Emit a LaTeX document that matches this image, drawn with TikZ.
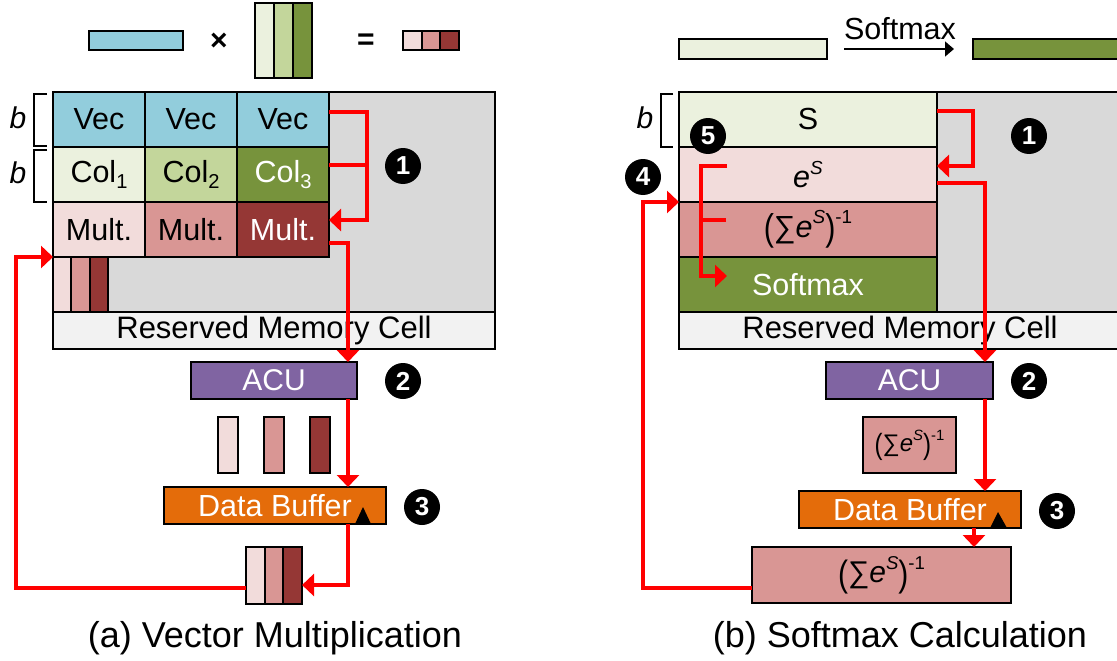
\documentclass[tikz,border=0pt]{standalone}
\usepackage{fontspec}
\usepackage{graphicx}
\setmainfont{Liberation Sans}
\usetikzlibrary{arrows.meta,calc}

\definecolor{vecblue}{HTML}{92CDDC}
\definecolor{colA}{HTML}{EBF1DE}
\definecolor{colB}{HTML}{C3D69B}
\definecolor{colC}{HTML}{77933C}
\definecolor{multA}{HTML}{F2DCDB}
\definecolor{multB}{HTML}{D99694}
\definecolor{multC}{HTML}{953735}
\definecolor{acupurple}{HTML}{8064A2}
\definecolor{bufferorange}{HTML}{E46C0A}
\definecolor{memgray}{HTML}{D9D9D9}
\definecolor{resgray}{HTML}{F2F2F2}

\newcommand{\sizeto}[1]{\fontsize{#1}{#1}\selectfont}
\newcommand{\subidx}[1]{\raisebox{-0.2em}{\scalebox{0.66}{#1}}}
\newcommand{\supidx}[1]{\raisebox{0.45em}{\scalebox{0.62}{#1}}}
\newcommand{\tallparen}[1]{\raisebox{-0.12em}{\scalebox{1}[1.22]{#1}}}
\newcommand{\invsum}{\tallparen{(}∑\textit{e}\supidx{\textit{S}}\tallparen{)}\supidx{-1}}

\begin{document}
\begin{tikzpicture}[x=1pt, y=-1pt,
  cellbox/.style={draw=black, line width=1.9pt, rectangle, inner sep=0pt, outer sep=0pt},
  celltext/.style={font=\sizeto{30.5}},
  redline/.style={draw=red, line width=3.4pt},
  redflow/.style={draw=red, line width=3.4pt, -{Triangle[width=22pt,length=12pt]}},
  marker/.style={circle, fill=black, text=white, minimum size=36pt, inner sep=0pt, font=\sizeto{26}\bfseries},
  bracketline/.style={draw=black, line width=1.5pt},
  caption/.style={font=\sizeto{36}}
]
\useasboundingbox (0,0) rectangle (1117,661);
\clip (0,0) rectangle (1117,661);

% ---------------- (a) Vector Multiplication ----------------
% equation above the array
\node[cellbox, fill=vecblue, minimum width=94pt, minimum height=19pt] (avec) at (136,40.5) {};
\node[font=\sizeto{30}\bfseries] (atimes) at (219,42) {×};
\node[cellbox, fill=colA, minimum width=19pt, minimum height=75pt] (amat1) at (264.5,40.5) {};
\node[cellbox, fill=colB, minimum width=19pt, minimum height=75pt] (amat2) at (283.5,40.5) {};
\node[cellbox, fill=colC, minimum width=19pt, minimum height=75pt] (amat3) at (302.5,40.5) {};
\node[font=\sizeto{30}\bfseries] (aeq) at (366,42) {=};
\node[cellbox, fill=multA, minimum width=18.7pt, minimum height=19pt] (ares1) at (412.3,40.5) {};
\node[cellbox, fill=multB, minimum width=18.7pt, minimum height=19pt] (ares2) at (431,40.5) {};
\node[cellbox, fill=multC, minimum width=18.7pt, minimum height=19pt] (ares3) at (449.7,40.5) {};

% memory array
\node[cellbox, fill=memgray, minimum width=442pt, minimum height=220pt] (amem) at (274,202) {};
\node[cellbox, celltext, fill=vecblue, minimum width=92pt, minimum height=55pt] (av1) at (99,119.5) {Vec};
\node[cellbox, celltext, fill=vecblue, minimum width=92pt, minimum height=55pt] (av2) at (191,119.5) {Vec};
\node[cellbox, celltext, fill=vecblue, minimum width=92pt, minimum height=55pt] (av3) at (283,119.5) {Vec};
\node[cellbox, celltext, fill=colA, minimum width=92pt, minimum height=55pt] (ac1) at (99,174.5) {Col\subidx{1}};
\node[cellbox, celltext, fill=colB, minimum width=92pt, minimum height=55pt] (ac2) at (191,174.5) {Col\subidx{2}};
\node[cellbox, celltext, fill=colC, text=white, minimum width=92pt, minimum height=55pt] (ac3) at (283,174.5) {Col\subidx{3}};
\node[cellbox, celltext, fill=multA, minimum width=92pt, minimum height=55pt] (am1) at (99,229.5) {Mult.};
\node[cellbox, celltext, fill=multB, minimum width=92pt, minimum height=55pt] (am2) at (191,229.5) {Mult.};
\node[cellbox, celltext, fill=multC, text=white, minimum width=92pt, minimum height=55pt] (am3) at (283,229.5) {Mult.};
\node[cellbox, fill=multA, minimum width=18.3pt, minimum height=55pt] (ak1) at (62.2,284.5) {};
\node[cellbox, fill=multB, minimum width=18.3pt, minimum height=55pt] (ak2) at (80.5,284.5) {};
\node[cellbox, fill=multC, minimum width=18.3pt, minimum height=55pt] (ak3) at (98.8,284.5) {};
\node[cellbox, fill=resgray, font=\sizeto{31}, minimum width=442pt, minimum height=37pt] (ares) at (274,330.5) {Reserved Memory Cell};

% row-height brackets
\draw[bracketline] (47,94) -- (34,94) -- (34,146) -- (47,146);
\draw[bracketline] (47,150) -- (34,150) -- (34,202) -- (47,202);
\node[font=\sizeto{30}\itshape] (ab1) at (18,118) {b};
\node[font=\sizeto{30}\itshape] (ab2) at (18,173) {b};

% processing units
\node[cellbox, fill=acupurple, text=white, font=\sizeto{30}, minimum width=166pt, minimum height=37pt] (aacu) at (274,380.5) {ACU};
\node[cellbox, fill=multA, minimum width=20pt, minimum height=56pt] (ap1) at (228,445) {};
\node[cellbox, fill=multB, minimum width=20pt, minimum height=56pt] (ap2) at (274,445) {};
\node[cellbox, fill=multC, minimum width=20pt, minimum height=56pt] (ap3) at (320,445) {};
\node[cellbox, fill=bufferorange, text=white, font=\sizeto{30.5}, minimum width=222pt, minimum height=37pt] (adb) at (275,505.5) {Data Buffer};
\fill[black] (355,524) -- (363,507) -- (371,524) -- cycle;
\node[cellbox, fill=multA, minimum width=18.7pt, minimum height=57pt] (ast1) at (255.3,575.5) {};
\node[cellbox, fill=multB, minimum width=18.7pt, minimum height=57pt] (ast2) at (274,575.5) {};
\node[cellbox, fill=multC, minimum width=18.7pt, minimum height=57pt] (ast3) at (292.7,575.5) {};

% data flow
\draw[redflow] ([yshift=7.5pt]av3.east) -- ++(38,0) |- ([yshift=9.5pt]am3.east);
\draw[redline] ([yshift=9.5pt]ac3.east) -- ++(38,0);
\draw[redflow] ([yshift=-13.5pt]am3.east) -| ([xshift=74pt]aacu.north);
\draw[redflow] ([xshift=74pt]aacu.south) -- ([xshift=74pt]aacu.south |- adb.north);
\draw[redflow] ([xshift=73pt]adb.south) |- ([yshift=-9.5pt]ast3.east);
\draw[redflow] ([yshift=-12.5pt]ast1.west) -- ++(-230,0) |- (am1.south west);

\node[marker] (an1) at (403,166) {1};
\node[marker] (an2) at (403,381) {2};
\node[marker] (an3) at (422,507) {3};

\node[caption] (acap) at (275,638) {(a) Vector Multiplication};

% ---------------- (b) Softmax Calculation ----------------
\node[cellbox, fill=colA, minimum width=148pt, minimum height=20pt] (sbar) at (753,49) {};
\node[cellbox, fill=colC, minimum width=148pt, minimum height=20pt] (dbar) at (1047,49) {};
\draw[line width=1.6pt, -{Triangle[width=15pt,length=9pt]}] ([xshift=17pt]sbar.east) -- ([xshift=-19pt]dbar.west);
\node[font=\sizeto{30.5}] (bsoftlabel) at (900,29) {Softmax};

\node[cellbox, fill=memgray, minimum width=442pt, minimum height=220pt] (bmem) at (900,202) {};
\node[cellbox, celltext, fill=colA, minimum width=258pt, minimum height=55pt] (bs) at (808,119.5) {S};
\node[cellbox, celltext, fill=multA, minimum width=258pt, minimum height=55pt] (bes) at (808,174.5) {\textit{e}\supidx{\textit{S}}};
\node[cellbox, celltext, fill=multB, minimum width=258pt, minimum height=55pt] (binv) at (808,229.5) {\invsum};
\node[cellbox, celltext, fill=colC, text=white, minimum width=258pt, minimum height=55pt] (bsoft) at (808,284.5) {Softmax};
\node[cellbox, fill=resgray, font=\sizeto{31}, minimum width=442pt, minimum height=37pt] (bres) at (900,330.5) {Reserved Memory Cell};

\draw[bracketline] (673,94) -- (661,94) -- (661,147) -- (673,147);
\node[font=\sizeto{30}\itshape] (bb1) at (645,118) {b};

\node[cellbox, fill=acupurple, text=white, font=\sizeto{30}, minimum width=167pt, minimum height=37pt] (bacu) at (909.5,380.5) {ACU};
\node[cellbox, fill=multB, font=\sizeto{24}, minimum width=93pt, minimum height=56pt] (bpart) at (909.5,445) {\invsum};
\node[cellbox, fill=bufferorange, text=white, font=\sizeto{30.5}, minimum width=222pt, minimum height=37pt] (bdb) at (910,509.5) {Data Buffer};
\fill[black] (990,528) -- (998,512) -- (1007,528) -- cycle;
\node[cellbox, fill=multB, font=\sizeto{30}, minimum width=259pt, minimum height=56pt] (bout) at (881.5,575) {\invsum};

% data flow
\coordinate (ktop) at (727,166);
\coordinate (kbot) at (727,276);
\coordinate (kmid) at (726,220);
\draw[redflow] ([yshift=8.5pt]bs.east) -- ++(36,0) |- ([yshift=8.5pt]bes.east);
\draw[redflow] ([yshift=-8.5pt]bes.east) -| ([xshift=75.5pt]bacu.north);
\draw[redflow] ([xshift=75.5pt]bacu.south) -- ([xshift=75.5pt]bacu.south |- bdb.north);
\draw[redflow] ([xshift=64pt]bdb.south) -- ([xshift=64pt]bdb.south |- bout.north);
\draw[redflow] ([yshift=-13pt]bout.west) -- ++(-109,0) |- (bes.south west);
\draw[redflow] (ktop) -- ++(-26,0) |- (kbot);
\draw[redline] (kmid) -- ++(-25,0);

\node[marker] (bn1) at (1029,136) {1};
\node[marker] (bn2) at (1029,381) {2};
\node[marker] (bn3) at (1057,511) {3};
\node[marker] (bn4) at (643,177) {4};
\node[marker] (bn5) at (708,136) {5};

\node[caption] (bcap) at (900,638) {(b) Softmax Calculation};
\end{tikzpicture}
\end{document}
